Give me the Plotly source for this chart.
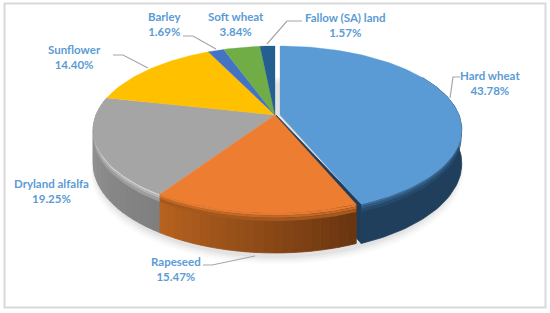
import math
import plotly.graph_objects as go

# Data
categories = ["Hard wheat", "Rapeseed", "Dryland alfalfa", "Sunflower", "Barley", "Soft wheat", "Fallow (SA) land"]
shares = [43.78, 15.47, 19.25, 14.40, 1.69, 3.84, 1.57]

# Style
top_colors = ["#5B9BD5", "#ED7D31", "#A5A5A5", "#FFC000", "#4472C4", "#70AD47", "#255E91"]
TEXT = "#5B9BD5"
LEADER = "#A6A6A6"

# Projection of the tilted pie onto the page
CX, CY, RX, RY, PERSP, DEPTH, EXPLODE = 275, 115, 179, 81, 0.1737, 33, 5


def project(theta_deg, radius=1.0, dx=0.0):
    t = math.radians(theta_deg)
    u, v = radius * math.sin(t), -radius * math.cos(t)
    k = 1 - PERSP * v
    return CX + dx + RX * u / k, CY + RY * v / k


def depth_at(theta_deg):
    return DEPTH / (1 + PERSP * math.cos(math.radians(theta_deg)))


def hexrgb(c):
    return tuple(int(c[i:i + 2], 16) for i in (1, 3, 5))


def mix(a, b, f):
    a, b = hexrgb(a), hexrgb(b)
    return "#%02x%02x%02x" % tuple(round(a[i] + (b[i] - a[i]) * f) for i in range(3))


def poly(xs, ys, color, line=0.8):
    return go.Scatter(x=xs, y=ys, mode="lines", fill="toself", fillcolor=color,
                      line=dict(color=color, width=line), hoverinfo="skip", showlegend=False)


def arc(a0, a1, dx=0.0):
    n = max(2, int(abs(a1 - a0) / 1.5) + 1)
    return [project(a0 + (a1 - a0) * i / (n - 1), dx=dx) for i in range(n)]


traces = []

# soft shadow under the disc
for off, alpha in [(9, 0.02), (7, 0.025), (5, 0.03), (3, 0.04)]:
    pts = arc(0, 360, dx=2)
    traces.append(go.Scatter(x=[p[0] + (1 if p[0] > CX else -1) * off * 0.5 for p in pts],
                             y=[p[1] + DEPTH / (1 - PERSP * ((p[1] - CY) / RY)) + off for p in pts],
                             mode="lines", fill="toself", fillcolor=f"rgba(0,0,0,{alpha})",
                             line=dict(width=0), hoverinfo="skip", showlegend=False))

# slice angles
edges = [0.0]
for s in shares:
    edges.append(edges[-1] + s * 3.6)

rim_bands = [(0.0, 0.06, 0.0), (0.06, 0.12, 0.4), (0.12, 0.2, 0.75)]


def side(a0, a1, rim, col0, col1, dx=0.0):
    """rim = colour right under the top edge; col0/col1 side colour at a0/a1"""
    steps = 1 if col0 == col1 else max(2, int(abs(a1 - a0) / 2.5))
    for i in range(steps):
        s0 = a0 + (a1 - a0) * i / steps
        s1 = a0 + (a1 - a0) * (i + 1) / steps
        base = mix(col0, col1, (i + 0.5) / steps)
        up = arc(s0, s1, dx=dx)
        low = [(p[0], p[1] + depth_at(s0 + (s1 - s0) * q / (len(up) - 1))) for q, p in enumerate(up)]
        ring = up + low[::-1] + up[:1]
        traces.append(poly([p[0] for p in ring], [p[1] for p in ring], base))
    mean = mix(col0, col1, 0.5)
    n = max(2, int(abs(a1 - a0) / 1.5) + 1)
    angles = [a0 + (a1 - a0) * q / (n - 1) for q in range(n)]
    for t0, t1, f in rim_bands:
        c = mix(rim, mean, f)
        upper = [(project(a, dx=dx)[0], project(a, dx=dx)[1] + depth_at(a) * t0) for a in angles]
        lower = [(project(a, dx=dx)[0], project(a, dx=dx)[1] + depth_at(a) * t1) for a in angles]
        ring = upper + lower[::-1] + upper[:1]
        traces.append(go.Scatter(x=[p[0] for p in ring], y=[p[1] for p in ring], mode="lines",
                                 fill="toself", fillcolor=c, line=dict(width=0),
                                 hoverinfo="skip", showlegend=False))


# sides, back to front
side(edges[3], edges[2], "#CFCFCF", "#9C9C9C", "#7E7E7E")
# wall of the pulled-out slice
bx, by = project(edges[1], dx=EXPLODE)
traces.append(poly([CX + EXPLODE - 4, bx, bx, CX + EXPLODE - 4],
                   [CY, by, by + depth_at(edges[1]), CY + DEPTH], "#1F3D5A"))
side(60, edges[1], "#3C6C98", "#1F3F5C", "#1F3F5C", dx=EXPLODE)
side(edges[2], edges[1], "#E57A30", "#B8621F", "#683510")

# top faces
order = [2, 3, 4, 5, 6, 1, 0]
for i in order:
    dx = EXPLODE if i == 0 else 0
    pts = arc(edges[i], edges[i + 1], dx=dx)
    xs = [CX + dx] + [p[0] for p in pts] + [CX + dx]
    ys = [CY] + [p[1] for p in pts] + [CY]
    traces.append(poly(xs, ys, top_colors[i], line=0.3))

fig = go.Figure(traces)

# Leader lines and labels
leaders = [
    [(460, 77), (453, 77), (450, 98)],
    [(203, 265), (212, 265), (255, 256)],
    None,
    [(113, 55), (123, 55), (148, 68)],
    [(183, 36), (193, 36), (216, 49)],
    None,
    [(302, 21), (287, 21), (267, 44)],
]
for pts in leaders:
    if pts:
        fig.add_trace(go.Scatter(x=[p[0] for p in pts], y=[p[1] for p in pts], mode="lines",
                                 line=dict(color=LEADER, width=1.2), hoverinfo="skip", showlegend=False))

label_pos = [(490, 83), (176, 269), (51, 191), (74, 57), (164, 24), (236, 24), (345, 25)]
annotations = []
for name, val, (lx, ly) in zip(categories, shares, label_pos):
    annotations.append(dict(x=lx, y=ly, xref="x", yref="y", showarrow=False, align="center",
                            text=f"{name}<br>{val:.2f}%",
                            font=dict(family="Lato", size=11.5, color=TEXT, weight="bold")))

fig.update_layout(
    width=550, height=313, margin=dict(l=0, r=0, t=0, b=0),
    paper_bgcolor="white", plot_bgcolor="white", showlegend=False,
    xaxis=dict(range=[0, 550], visible=False, fixedrange=True),
    yaxis=dict(range=[313, 0], visible=False, fixedrange=True),
    annotations=annotations,
    shapes=[dict(type="rect", xref="x", yref="y", x0=4.5, y0=3.5, x1=545.5, y1=307.5,
                 line=dict(color="#D9D9D9", width=2), layer="below")],
)
fig.write_html("out.html", config=dict(displayModeBar=False),
               post_script="document.body.style.margin='0';document.documentElement.style.overflow='hidden';")
